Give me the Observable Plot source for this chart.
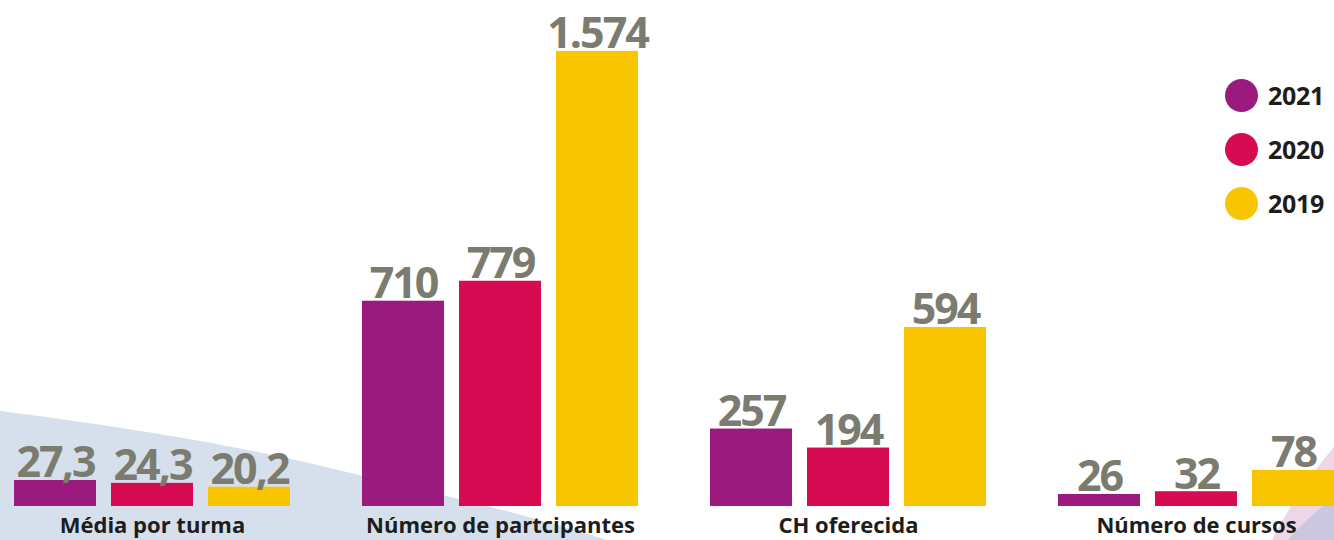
<!DOCTYPE html>
<html>
<head>
<meta charset="utf-8">
<script src="https://cdn.jsdelivr.net/npm/d3@7"></script>
<script src="https://cdn.jsdelivr.net/npm/@observablehq/plot@0.6"></script>
<style>
  html, body { margin: 0; padding: 0; background: #fff; }
  #wrap { position: relative; width: 1334px; height: 540px; overflow: hidden; font-family: "Open Sans", sans-serif; }
  #bg { position: absolute; left: 0; top: 0; width: 1334px; height: 540px; }
  #chart { position: absolute; left: 0; top: 0; }
  #chart svg [aria-label="text"] text { letter-spacing: -2px; }
  #legend { position: absolute; left: 1225px; top: 68px; }
  .row { display: flex; align-items: center; height: 54px; }
  .sw { width: 33px; height: 33px; border-radius: 50%; margin-right: 10px; }
  .lab { font-family: "Open Sans", sans-serif; font-weight: 700; font-size: 25px; color: #1d1d1b; letter-spacing: -0.3px; }
</style>
</head>
<body>
<div id="wrap">
  <svg id="bg" viewBox="0 0 1334 540">
    <path d="M0,411 C120,426 240,446 330,468 C420,490 520,512 607,540 L0,540 Z" fill="#d6e0ec"/>
    <path d="M1334,447 C1310,475 1290,505 1272,540 L1334,540 Z" fill="#ecd6e8"/>
    <path d="M1334,497 C1318,510 1300,525 1288,540 L1334,540 Z" fill="#cbc7e0"/>
  </svg>
  <div id="chart"></div>
  <div id="legend"></div>
</div>
<script>
// Categories and series
const groups = ["Média por turma", "Número de partcipantes", "CH oferecida", "Número de cursos"];
const years = ["2021", "2020", "2019"];
const colors = ["#9a1a7e", "#d60b51", "#f9c500"];
const values2021 = [27.3, 710, 257, 26];
const values2020 = [24.3, 779, 194, 32];
const values2019 = [20.2, 1574, 594, 78];
// per-group y-scale domain maxima (each group drawn on its own linear scale)
const yDomainMax = [531, 1750, 1679, 1096];

const series = [values2021, values2020, values2019];
const data = [];
groups.forEach((g, gi) => {
  years.forEach((y, yi) => {
    data.push({group: g, year: y, value: series[yi][gi], scaled: series[yi][gi] / yDomainMax[gi]});
  });
});

const ptBR = d3.formatLocale({decimal: ",", thousands: ".", grouping: [3], currency: ["R$", ""]});
const fmt = ptBR.format(",");

const chart = Plot.plot({
  width: 1334,
  height: 540,
  marginLeft: 14,
  marginRight: 0,
  marginTop: 0,
  marginBottom: 34,
  style: {background: "transparent", fontFamily: "Open Sans, sans-serif"},
  fx: {domain: groups, paddingInner: 0.2077, paddingOuter: 0, label: null},
  x: {domain: years, paddingInner: 0.155, paddingOuter: 0, axis: null},
  y: {domain: [0, 1], axis: null},
  color: {domain: years, range: colors},
  marks: [
    Plot.barY(data, {fx: "group", x: "year", y: "scaled", fill: "year"}),
    Plot.text(data, {
      fx: "group", x: "year", y: "scaled",
      text: d => fmt(d.value),
      lineAnchor: "bottom", dy: -3,
      fontSize: 43, fontWeight: 700, fill: "#7b7b70"
    }),
    Plot.axisFx({anchor: "bottom", tickSize: 0, tickPadding: 11, fontSize: 22, fontWeight: 700, color: "#1d1d1b", label: null})
  ]
});
document.getElementById("chart").appendChild(chart);

const legend = document.getElementById("legend");
years.forEach((y, i) => {
  const row = document.createElement("div");
  row.className = "row";
  const sw = document.createElement("div");
  sw.className = "sw";
  sw.style.background = colors[i];
  const lab = document.createElement("span");
  lab.className = "lab";
  lab.textContent = y;
  row.appendChild(sw);
  row.appendChild(lab);
  legend.appendChild(row);
});
</script>
</body>
</html>
